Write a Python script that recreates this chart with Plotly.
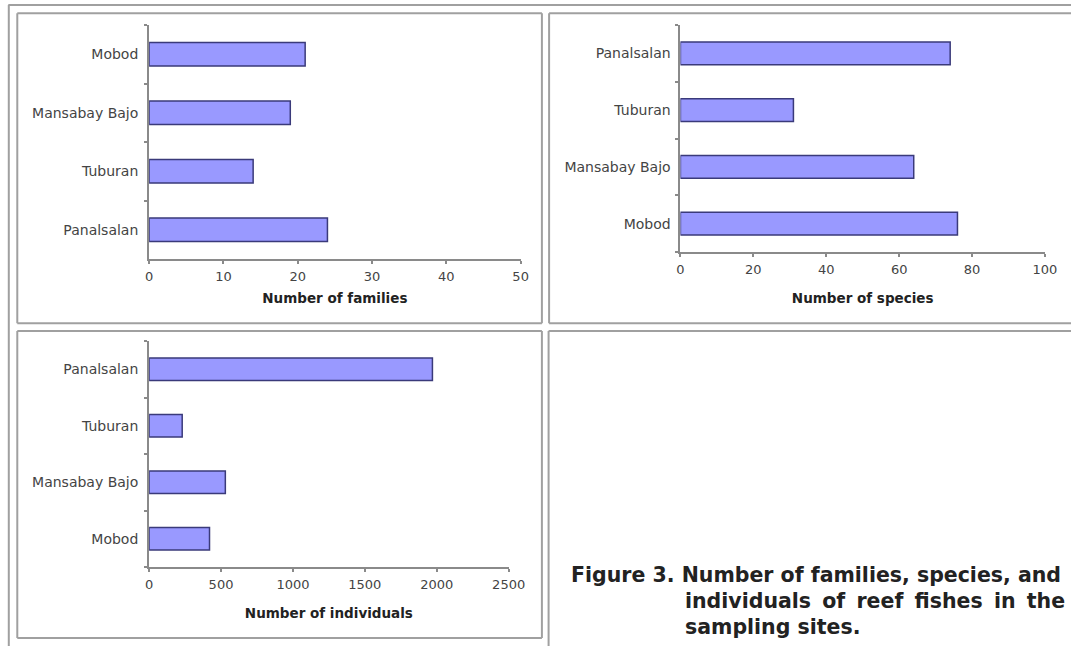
import plotly.graph_objects as go

H = 646
FIG_W = 1090               # figure width; the photographed page is slightly squeezed horizontally
SQ_A, SQ_B = 0.982, 2.7    # measured horizontal mapping of the photo: x_photo = A * x_fig + B

# ---------------- data ----------------
# (listed bottom-to-top as drawn on each category axis)
families_sites = ["Panalsalan", "Tuburan", "Mansabay Bajo", "Mobod"]
families_vals = [24, 14, 19, 21]
families_ticks = [0, 10, 20, 30, 40, 50]

species_sites = ["Mobod", "Mansabay Bajo", "Tuburan", "Panalsalan"]
species_vals = [76, 64, 31, 74]
species_ticks = [0, 20, 40, 60, 80, 100]

indiv_sites = ["Mobod", "Mansabay Bajo", "Tuburan", "Panalsalan"]
indiv_vals = [420, 530, 230, 1970]
indiv_ticks = [0, 500, 1000, 1500, 2000, 2500]

caption_lines = [
    "Figure 3. Number of families, species, and",
    "individuals of reef fishes in the",
    "sampling sites.",
]


def px(x):
    """reference-picture x pixel -> paper fraction"""
    return ((x - SQ_B) / SQ_A) / FIG_W


def py(y):
    return 1 - y / H


BAR_FILL = "#9999FF"
BAR_LINE = "#3a3a7a"
AXIS_COL = "#8a8a8a"
TXT_COL = "#444444"
FRAME_COL = "#a0a0a0"

fig = go.Figure()

for vals, sites, xa, ya in [(families_vals, families_sites, "x", "y"),
                            (species_vals, species_sites, "x2", "y2"),
                            (indiv_vals, indiv_sites, "x3", "y3")]:
    fig.add_trace(go.Bar(x=vals, y=sites, orientation="h",
                         marker=dict(color=BAR_FILL, line=dict(color=BAR_LINE, width=1.5)),
                         xaxis=xa, yaxis=ya, showlegend=False, hoverinfo="x+y"))


def xax(domain, ticks, anchor, title, standoff):
    return dict(domain=domain, range=[ticks[0], ticks[-1]], tickvals=ticks,
                anchor=anchor, showline=True, linecolor=AXIS_COL, linewidth=2,
                ticks="outside", ticklen=3, tickwidth=2, tickcolor=AXIS_COL,
                showgrid=False, zeroline=False,
                tickfont=dict(family="DejaVu Sans", size=13, color=TXT_COL),
                ticklabelstandoff=1,
                title=dict(text=title, standoff=standoff,
                           font=dict(family="DejaVu Sans", size=13.5, color="#222222",
                                     weight="bold")))


def yax(domain, anchor, cats, standoff):
    return dict(domain=domain, type="category", categoryorder="array", categoryarray=cats,
                range=[-0.5, len(cats) - 0.5], anchor=anchor, tickson="boundaries",
                showline=True, linecolor=AXIS_COL, linewidth=2,
                ticks="outside", ticklen=3, tickwidth=2, tickcolor=AXIS_COL,
                showgrid=False, zeroline=False,
                tickfont=dict(family="DejaVu Sans", size=14, color=TXT_COL),
                ticklabelstandoff=standoff)


fig.update_layout(
    width=FIG_W, height=H, autosize=False,
    margin=dict(l=0, r=0, t=0, b=0),
    paper_bgcolor="white", plot_bgcolor="white",
    bargap=0.6,
    xaxis=xax([px(148), px(520)], families_ticks, "y", "Number of families", 11),
    yaxis=yax([py(259), py(25)], "x", families_sites, 6),
    xaxis2=xax([px(680), px(1045)], species_ticks, "y2", "Number of species", 18),
    yaxis2=yax([py(252), py(25)], "x2", species_sites, 5),
    xaxis3=xax([px(148), px(508)], indiv_ticks, "y3", "Number of individuals", 18),
    yaxis3=yax([py(567), py(341)], "x3", indiv_sites, 6),
)

shapes = []


def line(x0, y0, x1, y1, col=FRAME_COL):
    shapes.append(dict(type="line", xref="paper", yref="paper", x0=px(x0), x1=px(x1),
                       y0=py(y0), y1=py(y1), line=dict(color=col, width=2)))


RIGHT = 1075  # beyond the visible right edge
# outer frame lines
line(7, 5, RIGHT, 5)
line(7.5, 5, 7.5, 646)
# panel 1 box
line(16, 13.3, 541.3, 13.3)
line(16, 323.3, 541.3, 323.3)
line(16, 13.3, 16, 323.3)
line(541.3, 13.3, 541.3, 323.3)
# panel 2 (right edge beyond view)
line(548.5, 13.3, RIGHT, 13.3)
line(548.5, 323.3, RIGHT, 323.3)
line(548.5, 13.3, 548.5, 323.3)
# panel 3 box
line(16, 331, 541.3, 331)
line(16, 638, 541.3, 638)
line(16, 331, 16, 638)
line(541.3, 331, 541.3, 638)
# panel 4 (right and bottom edges beyond view)
line(548, 331, RIGHT, 331)
line(548, 331, 548, 646)
fig.update_layout(shapes=shapes)

TS = "\u2009"  # thin space used to justify the second caption line
cap_text = [caption_lines[0],
            caption_lines[1].replace(" ", " " + TS),
            caption_lines[2]]
cap_pos = [(568, 575), (682.5, 601), (682.5, 627)]
for text, (x, y) in zip(cap_text, cap_pos):
    fig.add_annotation(text=text, xref="paper", yref="paper", x=px(x), y=py(y),
                       xanchor="left", yanchor="middle", showarrow=False,
                       font=dict(family="DejaVu Sans", size=20.5, color="#222222",
                                 weight="bold"))

fig.write_html(
    "out.html",
    post_script="document.body.style.margin='0';",
)
